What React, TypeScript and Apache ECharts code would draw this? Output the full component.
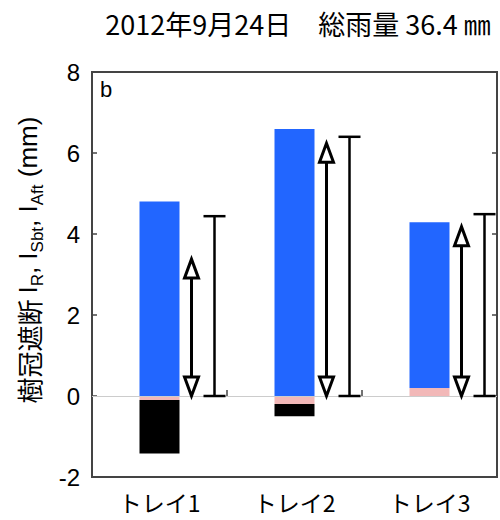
import React, { useEffect, useRef } from "react";
import * as echarts from "echarts";

const categories = ["トレイ1", "トレイ2", "トレイ3"];
const pinkValues = [-0.1, -0.2, 0.2];
const blueValues = [4.8, 6.59, 4.09];
const blackValues: (number | string)[] = [-1.32, -0.3, "-"];
const arrowTop = [3.38, 6.24, 4.18];
const rangeTop = [4.44, 6.4, 4.49];
const yTicks = { min: -2, max: 8, interval: 2 };

const titleText = "2012年9月24日　総雨量 36.4 ㎜";

export default function App() {
  const ref = useRef<HTMLDivElement>(null);
  useEffect(() => {
    document.body.style.margin = "0";
    const chart = echarts.init(ref.current!, null, { renderer: "svg" });

    const arrowRender = (_p: any, api: any) => {
      const idx = api.value(0);
      const top = api.coord([idx, api.value(1)]);
      const zero = api.coord([idx, 0]);
      const x = top[0] + 32;
      const y1 = top[1];
      const y0 = zero[1];
      const hw = 7;
      const hh = 19;
      const st = { stroke: "#000", lineWidth: 3, fill: "#fff" };
      return {
        type: "group",
        children: [
          { type: "line", shape: { x1: x, y1: y1 + hh, x2: x, y2: y0 - hh }, style: { stroke: "#000", lineWidth: 3 } },
          { type: "polygon", shape: { points: [[x, y1], [x - hw, y1 + hh], [x + hw, y1 + hh]] }, style: st },
          { type: "polygon", shape: { points: [[x, y0], [x - hw, y0 - hh], [x + hw, y0 - hh]] }, style: st },
        ],
      };
    };

    const rangeRender = (_p: any, api: any) => {
      const idx = api.value(0);
      const top = api.coord([idx, api.value(1)]);
      const zero = api.coord([idx, 0]);
      const x = top[0] + 55;
      const y1 = top[1];
      const y0 = zero[1];
      const cw = 11;
      const st = { stroke: "#000", lineWidth: 2.5 };
      return {
        type: "group",
        children: [
          { type: "line", shape: { x1: x, y1: y1, x2: x, y2: y0 }, style: st },
          { type: "line", shape: { x1: x - cw, y1: y1, x2: x + cw, y2: y1 }, style: st },
          { type: "line", shape: { x1: x - cw, y1: y0, x2: x + cw, y2: y0 }, style: st },
        ],
      };
    };

    chart.setOption({
      animation: false,
      title: {
        text: titleText,
        left: 293,
        top: 5,
        textAlign: "center",
        textStyle: { fontSize: 27, fontWeight: "normal", color: "#000", fontFamily: "Noto Sans CJK JP" },
      },
      grid: {
        left: 92,
        right: 3,
        top: 72,
        bottom: 43,
        show: true,
        borderColor: "#444",
        borderWidth: 2,
      },
      xAxis: {
        type: "category",
        data: categories,
        axisLine: { show: false },
        axisTick: { show: true, inside: true, length: 6, lineStyle: { color: "#444", width: 1.5 } },
        axisLabel: { fontSize: 23, color: "#000", margin: 13, fontFamily: "Noto Sans CJK JP" },
      },
      yAxis: [
        {
          type: "value",
          ...yTicks,
          axisLine: { show: false },
          splitLine: { show: false },
          axisTick: { show: true, inside: true, length: 5, lineStyle: { color: "#444", width: 1.5 } },
          axisLabel: { fontSize: 24, color: "#000", margin: 12, fontFamily: "Liberation Sans" },
        },
        {
          type: "value",
          position: "right",
          ...yTicks,
          axisLine: { show: false },
          splitLine: { show: false },
          axisTick: { show: true, inside: true, length: 5, lineStyle: { color: "#444", width: 1.5 } },
          axisLabel: { show: false },
        },
      ],
      graphic: [
        {
          type: "text",
          x: 100,
          y: 89,
          style: { text: "b", fontSize: 22, fill: "#000", fontFamily: "Liberation Sans", verticalAlign: "middle" },
        },
        {
          type: "text",
          x: 28,
          y: 260,
          rotation: Math.PI / 2,
          style: {
            text: "{a|樹冠遮断 }{b|I}{s|R}{b|, I}{s|Sbt}{b|, I}{s|Aft}{b| (mm)}",
            align: "center",
            verticalAlign: "middle",
            fill: "#000",
            rich: {
              a: { fontSize: 26, fontFamily: "Noto Sans CJK JP", lineHeight: 36, verticalAlign: "middle" },
              b: { fontSize: 26, fontFamily: "Liberation Sans", lineHeight: 36, verticalAlign: "middle" },
              s: { fontSize: 17, fontFamily: "Liberation Sans", lineHeight: 36, verticalAlign: "bottom" },
            },
          },
        },
      ],
      series: [
        {
          type: "bar",
          stack: "a",
          data: pinkValues,
          barWidth: 40,
          itemStyle: { color: "#f2b8b8" },
          markLine: {
            silent: true,
            symbol: "none",
            label: { show: false },
            lineStyle: { color: "#cccccc", width: 1, type: "solid" },
            data: [{ yAxis: 0 }],
          },
        },
        { type: "bar", stack: "a", data: blueValues, barWidth: 40, itemStyle: { color: "#2266ff" } },
        { type: "bar", stack: "a", data: blackValues, barWidth: 40, itemStyle: { color: "#000000" } },
        {
          type: "custom",
          renderItem: arrowRender,
          data: arrowTop.map((v, i) => [i, v]),
          clip: false,
          z: 5,
        },
        {
          type: "custom",
          renderItem: rangeRender,
          data: rangeTop.map((v, i) => [i, v]),
          clip: false,
          z: 5,
        },
      ],
    });
    return () => chart.dispose();
  }, []);
  return <div ref={ref} style={{ width: 500, height: 520 }} />;
}
